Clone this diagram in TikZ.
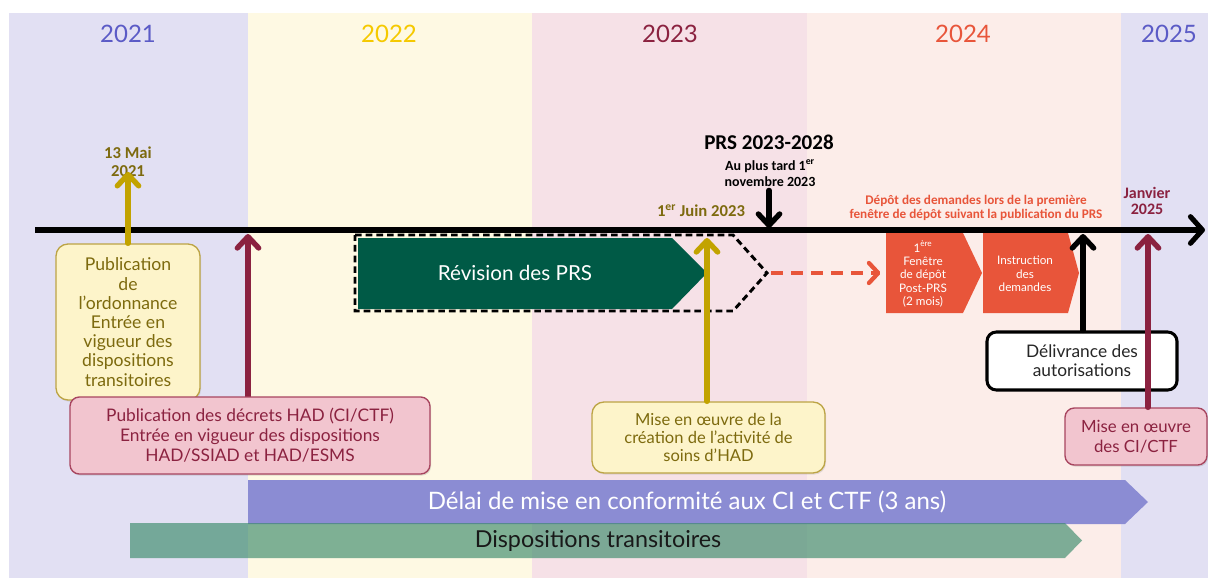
\documentclass[tikz,border=0pt]{standalone}
\usepackage{fontspec}
\setmainfont{Lato}
\newfontfamily\calfont{Carlito}
\usetikzlibrary{arrows.meta,shadows}
\definecolor{bandA}{HTML}{E2E0F3}
\definecolor{bandB}{HTML}{FEF9E3}
\definecolor{bandC}{HTML}{F6E1E7}
\definecolor{bandD}{HTML}{FCEDE9}
\definecolor{yrA}{HTML}{5B5BC6}
\definecolor{yrB}{HTML}{F5C900}
\definecolor{maroon}{HTML}{8B2240}
\definecolor{orangeC}{HTML}{E8553A}
\definecolor{olivedark}{HTML}{7D6A0E}
\definecolor{olivearr}{HTML}{C2A300}
\definecolor{yfill}{HTML}{FDF4CA}
\definecolor{yline}{HTML}{BCA445}
\definecolor{pfill}{HTML}{F2C5CF}
\definecolor{pline}{HTML}{A8455F}
\definecolor{revgreen}{HTML}{005A46}
\definecolor{barpurple}{HTML}{8B8CD3}
\definecolor{bargreen}{HTML}{3A8A6A}
\begin{document}
\begin{tikzpicture}[x=0.75pt,y=-0.75pt,
  yr/.style={font=\fontsize{18}{20}\selectfont},
  datelbl/.style={font=\calfont\bfseries\fontsize{12.5}{13.5}\selectfont, align=center, inner sep=0pt},
  arr/.style={line width=4pt, line cap=round, -{Straight Barb[round,length=8.5pt,width=16pt]}},
  bigarr/.style={line width=3.8pt, line cap=round, -{Straight Barb[round,length=9pt,width=20pt]}},
  ybox/.style={draw=yline, fill=yfill, line width=1pt, rounded corners=9pt, text=olivedark, align=center, inner sep=0pt,
    font=\fontsize{13.2}{14.4}\selectfont, drop shadow={opacity=0.2, shadow xshift=0.8pt, shadow yshift=-1.2pt}},
  pbox/.style={draw=pline, fill=pfill, line width=1pt, rounded corners=7pt, text=maroon, align=center, inner sep=0pt,
    font=\fontsize{13}{15}\selectfont, drop shadow={opacity=0.25, shadow xshift=0.8pt, shadow yshift=-1.2pt}},
  wbox/.style={draw=black, fill=white, line width=2.3pt, rounded corners=7pt, text=black!85, align=center, inner sep=0pt,
    font=\fontsize{13}{14.4}\selectfont},
  ptext/.style={text=white, align=center, font=\fontsize{8.8}{10}\selectfont, inner sep=0pt},
  bartext/.style={inner sep=0pt, font=\fontsize{17.5}{19}\selectfont}
]
\useasboundingbox (0,0) rectangle (1208,578);
\fill[white] (0,0) rectangle (1208,578);
% year bands
\fill[bandA] (9,13) rectangle (248,578);
\fill[bandB] (248,13) rectangle (532,578);
\fill[bandC] (532,13) rectangle (807,578);
\fill[bandD] (807,13) rectangle (1121,578);
\fill[bandA] (1121,13) rectangle (1208,578);
\node[yr, text=yrA] (y21) at (128,34) {2021};
\node[yr, text=yrB] (y22) at (389,34) {2022};
\node[yr, text=maroon] (y23) at (670,34) {2023};
\node[yr, text=orangeC] (y24) at (963,34) {2024};
\node[yr, text=yrA] (y25) at (1169,34) {2025};

% bottom bars
\fill[barpurple] (248,480) -- (1125,480) -- (1148,502) -- (1125,524) -- (248,524) -- cycle;
\node[bartext, text=white, font=\fontsize{18}{19}\selectfont] (delai) at (687,502) {Délai de mise en conformité aux CI et CTF (3 ans)};
\fill[bargreen, opacity=0.65] (130,523) -- (1065,523) -- (1082,540.5) -- (1065,558) -- (130,558) -- cycle;
\node[bartext, text=black!90] (dispo) at (598,540.5) {Dispositions transitoires};

% revision des PRS
\fill[revgreen] (358,238) -- (672,238) -- (707,273) -- (672,309) -- (358,309) -- cycle;
\draw[black, line width=2.2pt, dash pattern=on 5pt off 3pt] (355,235) -- (733,235) -- (767,273) -- (733,311) -- (355,311) -- cycle;
\node[text=white, font=\fontsize{15.5}{17}\selectfont] (rev) at (515,273) {Révision des PRS};
\coordinate (revtip) at (771,273);

% orange pentagons
\fill[orangeC] (886,233) -- (963,233) -- (982,273) -- (963,313) -- (886,313) -- cycle;
\fill[orangeC] (983,233) -- (1068,233) -- (1079,273) -- (1068,313) -- (983,313) -- cycle;
\node[minimum width=72pt, minimum height=60pt, inner sep=0pt] (p1box) at (934,273) {};
\node[ptext] (p1) at (923,274) {1\textsuperscript{ère}\\Fenêtre\\de dépôt\\Post-PRS\\(2 mois)};
\node[ptext] (p2) at (1025,274) {Instruction\\des\\demandes};
\draw[orangeC, line width=3.2pt, dash pattern=on 9pt off 6pt, -{Straight Barb[round,length=7pt,width=15pt]}] (revtip) -- ([xshift=-4pt]p1box.west);

% timeline
\coordinate (tl0) at (35,230);
\coordinate (tl1) at (1205,230);
\draw[bigarr, line cap=butt] (tl0) -- (tl1);

% labels
\node[datelbl, text=olivedark] (d13) at (128,162) {13 Mai\\2021};
\node[font=\calfont\bfseries\fontsize{15.8}{17}\selectfont, inner sep=0pt] (prs) at (769,142) {PRS 2023-2028};
\node[font=\calfont\bfseries\fontsize{10.5}{12}\selectfont, align=center, inner sep=0pt] (nov) at (770,173) {Au plus tard 1\textsuperscript{er}\\novembre 2023};
\node[datelbl, text=olivedark] (juin) at (701,211) {1\textsuperscript{er} Juin 2023};
\node[font=\calfont\bfseries\fontsize{9.9}{11}\selectfont, align=center, inner sep=0pt, text=orangeC] (depot) at (976,208) {Dépôt des demandes lors de la première\\fenêtre de dépôt suivant la publication du PRS};
\node[datelbl, text=maroon, font=\calfont\bfseries\fontsize{12}{12.5}\selectfont] (jan) at (1147,201) {Janvier\\2025};

% boxes
\node[ybox, minimum width=108pt, minimum height=117pt] (ord) at (128,322) {Publication\\de\\l’ordonnance\\Entrée en\\vigueur des\\dispositions\\transitoires};
\coordinate (t2) at (248,234);
\draw[arr, maroon] (248,398) -- (t2);
\node[pbox, minimum width=270pt, minimum height=57.75pt] (decrets) at (250,435.5) {Publication des décrets HAD (CI/CTF)\\Entrée en vigueur des dispositions\\HAD/SSIAD et HAD/ESMS};
\draw[arr, olivearr] (ord.north) -- ([yshift=4pt]d13.south);

\node[ybox, minimum width=174.75pt, minimum height=53.25pt, font=\fontsize{12.4}{13.5}\selectfont] (creation) at (708.5,437.5) {Mise en œuvre de la\\création de l’activité de\\soins d’HAD};
\coordinate (t3) at (707,238);
\draw[arr, olivearr] (creation.north -| t3) -- (t3);

\coordinate (t4) at (769,228);
\draw[arr, black] ([yshift=-3pt]nov.south -| t4) -- (t4);

\node[wbox, minimum width=142.5pt, minimum height=43.5pt] (deliv) at (1082,361) {Délivrance des\\autorisations};
\coordinate (t5) at (1083,234);
\draw[arr, black] (deliv.north -| t5) -- (t5);

\node[pbox, minimum width=106.5pt, minimum height=42.75pt, font=\fontsize{12.6}{15}\selectfont] (miseci) at (1136,436.5) {Mise en œuvre\\des CI/CTF};
\coordinate (t6) at (1148,234);
\draw[arr, maroon] (miseci.north -| t6) -- (t6);
\end{tikzpicture}
\end{document}
